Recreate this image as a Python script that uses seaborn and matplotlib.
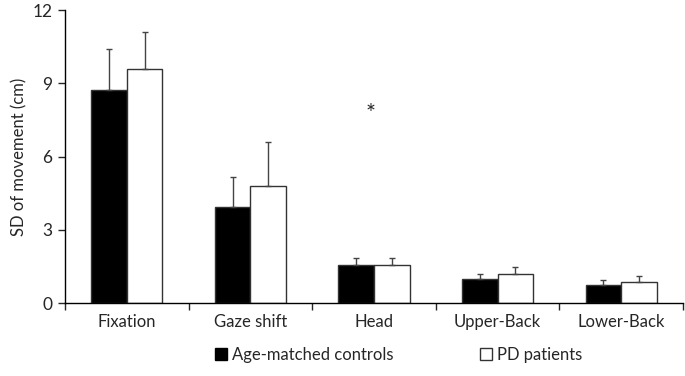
import numpy as np
import pandas as pd
import matplotlib
matplotlib.use("Agg")
import matplotlib.pyplot as plt
from matplotlib.patches import Patch
import seaborn as sns

categories = ["Fixation", "Gaze shift", "Head", "Upper-Back", "Lower-Back"]
groups = ["Age-matched controls", "PD patients"]
controls_mean = [8.72, 3.93, 1.57, 0.97, 0.75]
controls_sd = [1.67, 1.22, 0.26, 0.21, 0.19]
patients_mean = [9.60, 4.78, 1.57, 1.18, 0.86]
patients_sd = [1.49, 1.80, 0.28, 0.28, 0.26]

sns.set_theme(style="white")
plt.rcParams["font.family"] = ["Lato", "DejaVu Sans"]

df = pd.DataFrame({
    "category": categories * 2,
    "group": [groups[0]] * 5 + [groups[1]] * 5,
    "value": controls_mean + patients_mean,
})

fig = plt.figure(figsize=(6.85, 3.76), dpi=100)
ax = fig.add_axes([0.095, 0.194, 0.902, 0.779])

sns.barplot(
    df, x="category", y="value", hue="group", order=categories,
    hue_order=groups, palette={groups[0]: "black", groups[1]: "white"},
    width=0.575, gap=0, edgecolor="#333333", linewidth=1.0,
    errorbar=None, legend=False, ax=ax,
)

# upward-only error bars
for cont, sds in zip(ax.containers, [controls_sd, patients_sd]):
    xs = [b.get_x() + b.get_width() / 2 for b in cont]
    ys = [b.get_height() for b in cont]
    ax.errorbar(xs, ys, yerr=[np.zeros(len(sds)), sds], fmt="none",
                ecolor="#444444", elinewidth=1.0, capsize=2.5, capthick=1.0)

ax.text(1.97, 7.75, "*", ha="center", va="center", fontsize=17)

ax.set_ylim(0, 12)
ax.set_yticks([0, 3, 6, 9, 12])
ax.set_xlim(-0.5, 4.5)
ax.set_xlabel("")
ax.set_ylabel("SD of movement (cm)", fontsize=12)
ax.tick_params(axis="y", labelsize=12.5, length=5, width=1, direction="out", left=True, pad=4)
ax.tick_params(axis="x", which="major", length=0, labelsize=12, pad=8)
ax.set_xticks(np.arange(-0.5, 5, 1), minor=True)
ax.tick_params(axis="x", which="minor", length=5, width=1, direction="out", bottom=True)
for s in ["top", "right"]:
    ax.spines[s].set_visible(False)
for s in ["left", "bottom"]:
    ax.spines[s].set_color("black")
    ax.spines[s].set_linewidth(1.0)

handles = [Patch(facecolor="black", edgecolor="black"),
           Patch(facecolor="white", edgecolor="#333333")]
fig.legend(handles, groups, loc="center", bbox_to_anchor=(0.582, 0.056), ncol=2,
           frameon=False, fontsize=12, handlelength=0.7, handleheight=0.7,
           handletextpad=0.3, columnspacing=5.2)

fig.savefig("out.png", dpi=100)
